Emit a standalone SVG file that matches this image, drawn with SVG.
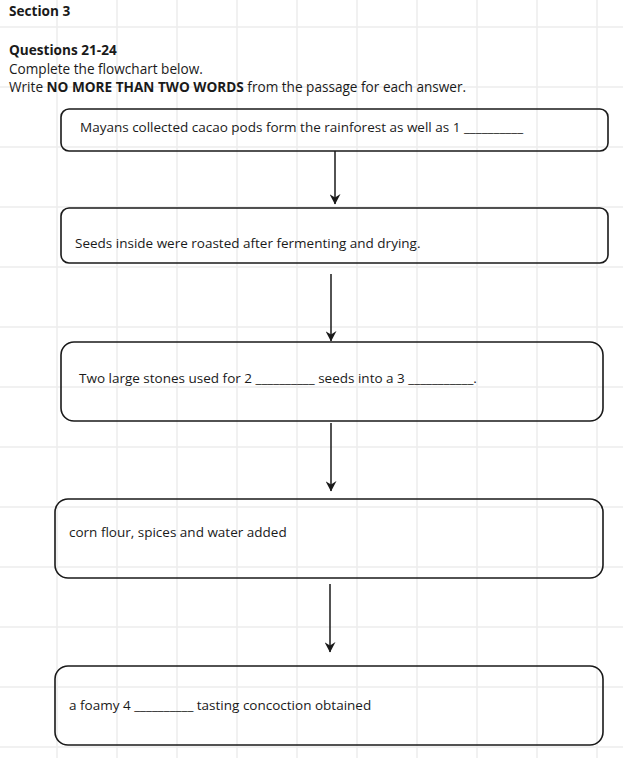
<svg xmlns="http://www.w3.org/2000/svg" width="623" height="758" viewBox="0 0 623 758">
<style>
.grid line{stroke:#ececec;stroke-width:1.5}
.box{fill:none;stroke:#1a1a1a;stroke-width:1.6}
.t{font-family:"Open Sans","Noto Sans","Liberation Sans",sans-serif;font-size:13.5px;fill:#1a1a1a}
.h{font-size:13.6px}
.b{font-weight:bold}
.con line{stroke:#1a1a1a;stroke-width:1.5}
</style>
<defs>
<marker id="ah" viewBox="0 0 10 10" refX="9" refY="5" markerWidth="11" markerHeight="11" markerUnits="userSpaceOnUse" orient="auto">
<path d="M0,0 L3,5 L0,10 L9.5,5 Z" fill="#1a1a1a"/>
</marker>
</defs>
<rect width="623" height="758" fill="#ffffff"/>
<g class="grid">
<line x1="57" y1="0" x2="57" y2="758"/><line x1="117" y1="0" x2="117" y2="758"/><line x1="177" y1="0" x2="177" y2="758"/><line x1="237" y1="0" x2="237" y2="758"/><line x1="297" y1="0" x2="297" y2="758"/><line x1="357" y1="0" x2="357" y2="758"/><line x1="417" y1="0" x2="417" y2="758"/><line x1="477" y1="0" x2="477" y2="758"/><line x1="537" y1="0" x2="537" y2="758"/><line x1="597" y1="0" x2="597" y2="758"/>
<line x1="0" y1="27" x2="623" y2="27"/><line x1="0" y1="87" x2="623" y2="87"/><line x1="0" y1="147" x2="623" y2="147"/><line x1="0" y1="207" x2="623" y2="207"/><line x1="0" y1="267" x2="623" y2="267"/><line x1="0" y1="327" x2="623" y2="327"/><line x1="0" y1="387" x2="623" y2="387"/><line x1="0" y1="447" x2="623" y2="447"/><line x1="0" y1="507" x2="623" y2="507"/><line x1="0" y1="567" x2="623" y2="567"/><line x1="0" y1="627" x2="623" y2="627"/><line x1="0" y1="687" x2="623" y2="687"/><line x1="0" y1="747" x2="623" y2="747"/>
</g>
<g id="header">
<text class="t h b" x="9" y="16">Section 3</text>
<text class="t h b" x="9" y="55">Questions 21-24</text>
<text class="t h" x="9" y="74">Complete the flowchart below.</text>
<text class="t h" x="9" y="92">Write <tspan class="b">NO MORE THAN TWO WORDS</tspan> from the passage for each answer.</text>
</g>
<g class="con">
<line x1="335" y1="151" x2="335" y2="204" marker-end="url(#ah)"/>
<line x1="331" y1="274" x2="331" y2="341" marker-end="url(#ah)"/>
<line x1="331" y1="423" x2="331" y2="491" marker-end="url(#ah)"/>
<line x1="330" y1="584" x2="330" y2="652" marker-end="url(#ah)"/>
</g>
<g id="n1">
<rect class="box" x="61" y="109" width="547" height="42" rx="8"/>
<text class="t" x="80" y="132">Mayans collected cacao pods form the rainforest as well as 1 __________</text>
</g>
<g id="n2">
<rect class="box" x="61" y="208" width="547" height="55" rx="8"/>
<text class="t" x="75" y="248">Seeds inside were roasted after fermenting and drying.</text>
</g>
<g id="n3">
<rect class="box" x="61" y="342" width="542" height="79" rx="13"/>
<text class="t" x="79" y="383">Two large stones used for 2 __________ seeds into a 3 ___________.</text>
</g>
<g id="n4">
<rect class="box" x="55" y="499" width="548" height="79" rx="13"/>
<text class="t" x="69" y="537">corn flour, spices and water added</text>
</g>
<g id="n5">
<rect class="box" x="55" y="666" width="548" height="79" rx="13"/>
<text class="t" x="69" y="710">a foamy 4 __________ tasting concoction obtained</text>
</g>
</svg>
